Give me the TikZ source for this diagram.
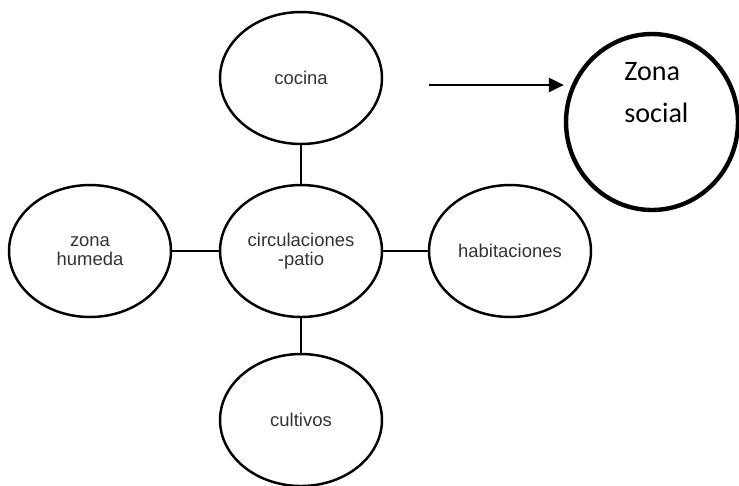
\documentclass[tikz,border=0pt]{standalone}
\usepackage{fontspec}
\setmainfont{Liberation Sans}
\newfontfamily\socialfont{Carlito}
\usetikzlibrary{shapes.geometric,arrows.meta}

\begin{document}
\begin{tikzpicture}[x=0.02cm,y=-0.02cm,
  zona/.style={draw,ellipse,line width=1.4pt,minimum width=3.24cm,
    minimum height=2.64cm,inner sep=0pt,align=center,text=black!80,
    font=\fontsize{10.5}{10.5}\selectfont},
  enlace/.style={line width=1.4pt}]
\useasboundingbox (0,0) rectangle (739,485);
\node[zona] (cocina) at (301,78) {cocina};
\node[zona] (circ) at (301,251) {circulaciones\\-patio};
\node[zona] (humeda) at (90,251) {zona\\humeda};
\node[zona] (hab) at (510,251) {habitaciones};
\node[zona] (cultivos) at (301,420) {cultivos};
\draw[enlace] (cocina) -- (circ);
\draw[enlace] (humeda) -- (circ);
\draw[enlace] (circ) -- (hab);
\draw[enlace] (circ) -- (cultivos);
\node[draw,ellipse,line width=2.5pt,minimum width=3.44cm,
      minimum height=3.52cm] (social) at (652,122) {};
\node[anchor=north west,align=left,inner sep=0pt,
      font=\socialfont\fontsize{16}{24}\selectfont] (socialtxt) at (624,62)
  {Zona\\social};
\coordinate (flecha) at (429,85);
\draw[line width=1.1pt,-{Triangle[length=8.5pt,width=8pt]}]
  (flecha) -- (flecha -| social.west);
\end{tikzpicture}
\end{document}
